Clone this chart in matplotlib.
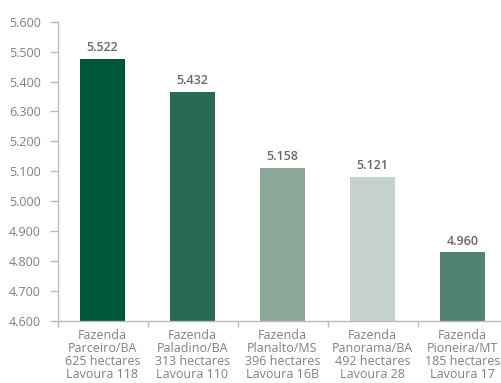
import matplotlib
matplotlib.use("Agg")
import matplotlib.pyplot as plt
from matplotlib.ticker import FixedLocator

categories = [
    "Fazenda\nParceiro/BA\n625 hectares\nLavoura 118",
    "Fazenda\nPaladino/BA\n313 hectares\nLavoura 110",
    "Fazenda\nPlanalto/MS\n396 hectares\nLavoura 16B",
    "Fazenda\nPanorama/BA\n492 hectares\nLavoura 28",
    "Fazenda\nPioneira/MT\n185 hectares\nLavoura 17",
]
bar_heights = [5.475, 5.366, 5.112, 5.082, 4.829]
value_labels = ["5.522", "5.432", "5.158", "5.121", "4.960"]
colors = ["#00563b", "#276b55", "#8ba898", "#c5d1cb", "#528270"]
yticks = [4.6, 4.7, 4.8, 4.9, 5.0, 5.1, 5.2, 5.3, 5.4, 5.5, 5.6]
ytick_labels = ["4.600", "4.700", "4.800", "4.900", "5.000", "5.100",
                "5.200", "6.300", "5.400", "5.500", "5.600"]

plt.rcParams['font.family'] = ['Open Sans', 'DejaVu Sans']

W, H = 501, 383
fig = plt.figure(figsize=(W / 100, H / 100), dpi=100)
left, right = 57.5, 507.5
top, bottom = 21.7, 321
ax = fig.add_axes([left / W, 1 - bottom / H, (right - left) / W, (bottom - top) / H])

x = list(range(len(categories)))
ax.bar(x, [h - 4.6 for h in bar_heights], bottom=4.6, width=0.5, color=colors, zorder=2)

for xi, h, lab in zip(x, bar_heights, value_labels):
    ax.annotate(lab, (xi, h), xytext=(0, 3.5), textcoords="offset points",
                ha="center", va="bottom", fontsize=9, color="#666666", fontweight="semibold")

ax.set_xlim(-0.5, 4.5)
ax.set_ylim(4.6, 5.6)
ax.set_yticks(yticks)
ax.set_yticklabels(ytick_labels)
ax.set_xticks(x)
ax.set_xticklabels(categories, linespacing=1.0)
ax.xaxis.set_minor_locator(FixedLocator([-0.5, 0.5, 1.5, 2.5, 3.5, 4.5]))

ax.tick_params(axis="y", length=6, width=1, color="#bbbbbb", labelcolor="#808080",
               labelsize=9, pad=6)
ax.tick_params(axis="x", which="major", length=0, labelcolor="#808080", labelsize=9, pad=6)
ax.tick_params(axis="x", which="minor", length=4, width=1, color="#bbbbbb")

for s in ["top", "right"]:
    ax.spines[s].set_visible(False)
for s in ["left", "bottom"]:
    ax.spines[s].set_color("#bbbbbb")
    ax.spines[s].set_linewidth(1)

fig.savefig("out.png", dpi=100)
